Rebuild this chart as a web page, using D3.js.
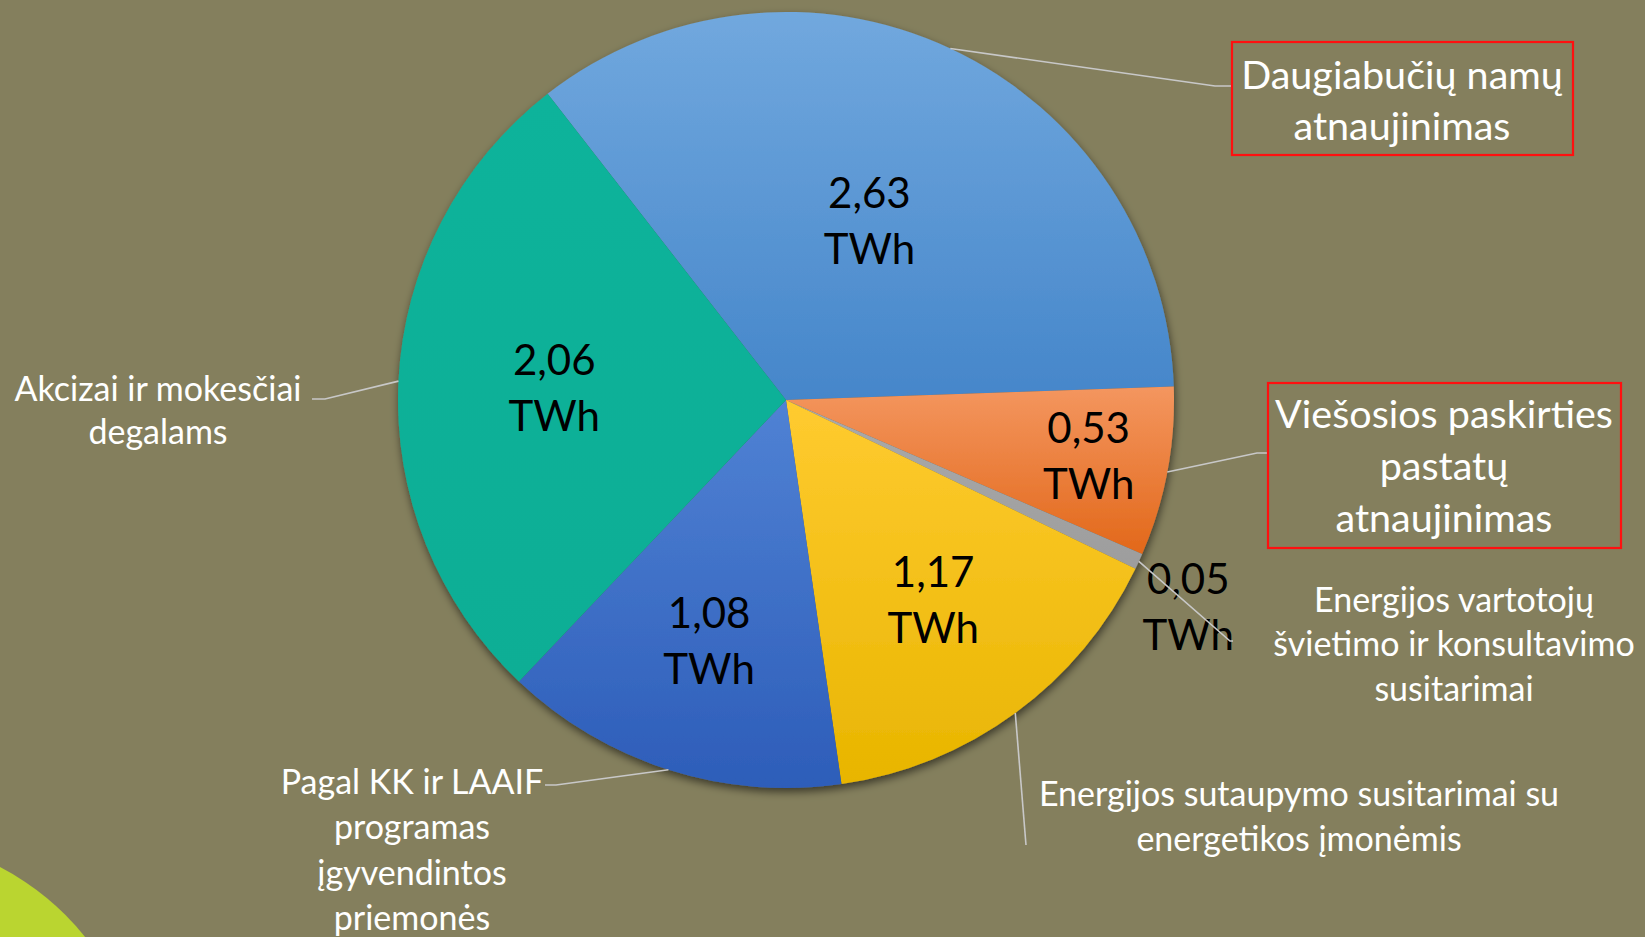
<!DOCTYPE html>
<html>
<head>
<meta charset="utf-8">
<script src="https://cdn.jsdelivr.net/npm/d3@7"></script>
<style>
  body { margin: 0; background: #847f5d; overflow: hidden; }
  text { font-family: Lato, "Open Sans", sans-serif; }
</style>
</head>
<body>
<svg id="chart" width="1645" height="937"></svg>
<script>
// slices in clockwise order, starting from upper-left
var categories = [
  "Daugiabučių namų\natnaujinimas",
  "Viešosios paskirties\npastatų\natnaujinimas",
  "Energijos vartotojų\nšvietimo ir konsultavimo\nsusitarimai",
  "Energijos sutaupymo susitarimai su\nenergetikos įmonėmis",
  "Pagal KK ir LAAIF\nprogramas\nįgyvendintos\npriemonės",
  "Akcizai ir mokesčiai\ndegalams"
];
var values = [2.63, 0.53, 0.05, 1.17, 1.08, 2.06];
var unit = "TWh";

// gradient colours per slice (top, bottom)
var colorsTop = ["#71a8de", "#f4965f", "#aaaaaa", "#ffcb30", "#5082d4", "#0bb39b"];
var colorsBottom = ["#4586ca", "#e2681a", "#9d9d9d", "#e8b500", "#2d5db9", "#0aae95"];

// layout for labels: radius / angle shift of value label, category label position, leader line bend
var valueLabelR = [197, 308, 453, 249, 254, 232];
var valueLabelShift = [0, 0, 2.8, 0, 0, 0];
var catLayout = [
  {x: 1402, y: 75, size: 39.5, line: 51, box: [1232, 42, 341, 113], bend: [1215, 86], end: [1232, 86]},
  {x: 1444, y: 414, size: 39.5, line: 52, box: [1268, 383, 353, 165], bend: [1257, 453], end: [1268, 453]},
  {x: 1454, y: 600, size: 34, line: 44.5, box: null, bend: [1230, 641], end: [1233, 641]},
  {x: 1299, y: 794, size: 34, line: 45, box: null, bend: null, end: [1026, 845]},
  {x: 412, y: 782, size: 34, line: 45.5, box: null, bend: [556, 785], end: [545, 785]},
  {x: 158, y: 389, size: 34, line: 43, box: null, bend: [325, 399], end: [312, 399]}
];

var svg = d3.select("#chart");
var cx = 786, cy = 400, radius = 388;

// green corner decoration
svg.append("circle")
  .attr("cx", -120).attr("cy", 1100).attr("r", 262)
  .attr("fill", "#bad530");

var defs = svg.append("defs");
var shadow = defs.append("filter").attr("id", "shadow")
  .attr("x", "-10%").attr("y", "-10%").attr("width", "120%").attr("height", "120%");
shadow.append("feDropShadow")
  .attr("dx", 1).attr("dy", 4).attr("stdDeviation", 4)
  .attr("flood-color", "#000").attr("flood-opacity", 0.55);

values.forEach(function(v, i) {
  var grad = defs.append("linearGradient").attr("id", "g" + i)
    .attr("x1", 0).attr("y1", 0).attr("x2", 0).attr("y2", 1);
  grad.append("stop").attr("offset", "0%").attr("stop-color", colorsTop[i]);
  grad.append("stop").attr("offset", "100%").attr("stop-color", colorsBottom[i]);
});

var startDeg = -37.9;
var pie = d3.pie().sort(null).value(d => d)
  .startAngle(startDeg * Math.PI / 180)
  .endAngle((startDeg + 360) * Math.PI / 180);
var arcs = pie(values);
var arc = d3.arc().innerRadius(0).outerRadius(radius);

var g = svg.append("g").attr("transform", `translate(${cx},${cy})`);

// slices
g.append("g")
  .attr("filter", "url(#shadow)")
  .selectAll("path")
  .data(arcs)
  .enter().append("path")
  .attr("d", arc)
  .attr("fill", (d, i) => `url(#g${i})`);

// leader lines
function edgePoint(d) {
  var a = (d.startAngle + d.endAngle) / 2;
  return [cx + radius * Math.sin(a), cy - radius * Math.cos(a)];
}
svg.append("g").selectAll("path")
  .data(arcs)
  .enter().append("path")
  .attr("d", function(d, i) {
    var p = edgePoint(d), L = catLayout[i];
    var pts = [p];
    if (L.bend) pts.push(L.bend);
    pts.push(L.end);
    return d3.line()(pts);
  })
  .attr("fill", "none")
  .attr("stroke", "#c8c8c8")
  .attr("stroke-width", 1.6);

// value labels
var valG = g.append("g");
arcs.forEach(function(d, i) {
  var a = (d.startAngle + d.endAngle) / 2 + valueLabelShift[i] * Math.PI / 180;
  var r = valueLabelR[i];
  var c = [r * Math.sin(a), -r * Math.cos(a)];
  var t = valG.append("text")
    .attr("x", c[0]).attr("y", c[1])
    .attr("text-anchor", "middle")
    .attr("font-size", 42)
    .attr("fill", "#000");
  t.append("tspan").attr("x", c[0]).attr("dy", -14)
    .text(d3.format(".2f")(d.data).replace(".", ","));
  t.append("tspan").attr("x", c[0]).attr("dy", 56).text(unit);
});

// category labels
categories.forEach(function(name, i) {
  var L = catLayout[i];
  if (L.box) {
    svg.append("rect")
      .attr("x", L.box[0]).attr("y", L.box[1])
      .attr("width", L.box[2]).attr("height", L.box[3])
      .attr("fill", "none").attr("stroke", "#ff1010").attr("stroke-width", 2.2);
  }
  var t = svg.append("text")
    .attr("text-anchor", "middle")
    .attr("font-size", L.size)
    .attr("fill", "#fff");
  name.split("\n").forEach(function(line, k) {
    t.append("tspan")
      .attr("x", L.x)
      .attr("y", L.y + k * L.line)
      .attr("dy", "0.35em")
      .text(line);
  });
});
</script>
</body>
</html>
